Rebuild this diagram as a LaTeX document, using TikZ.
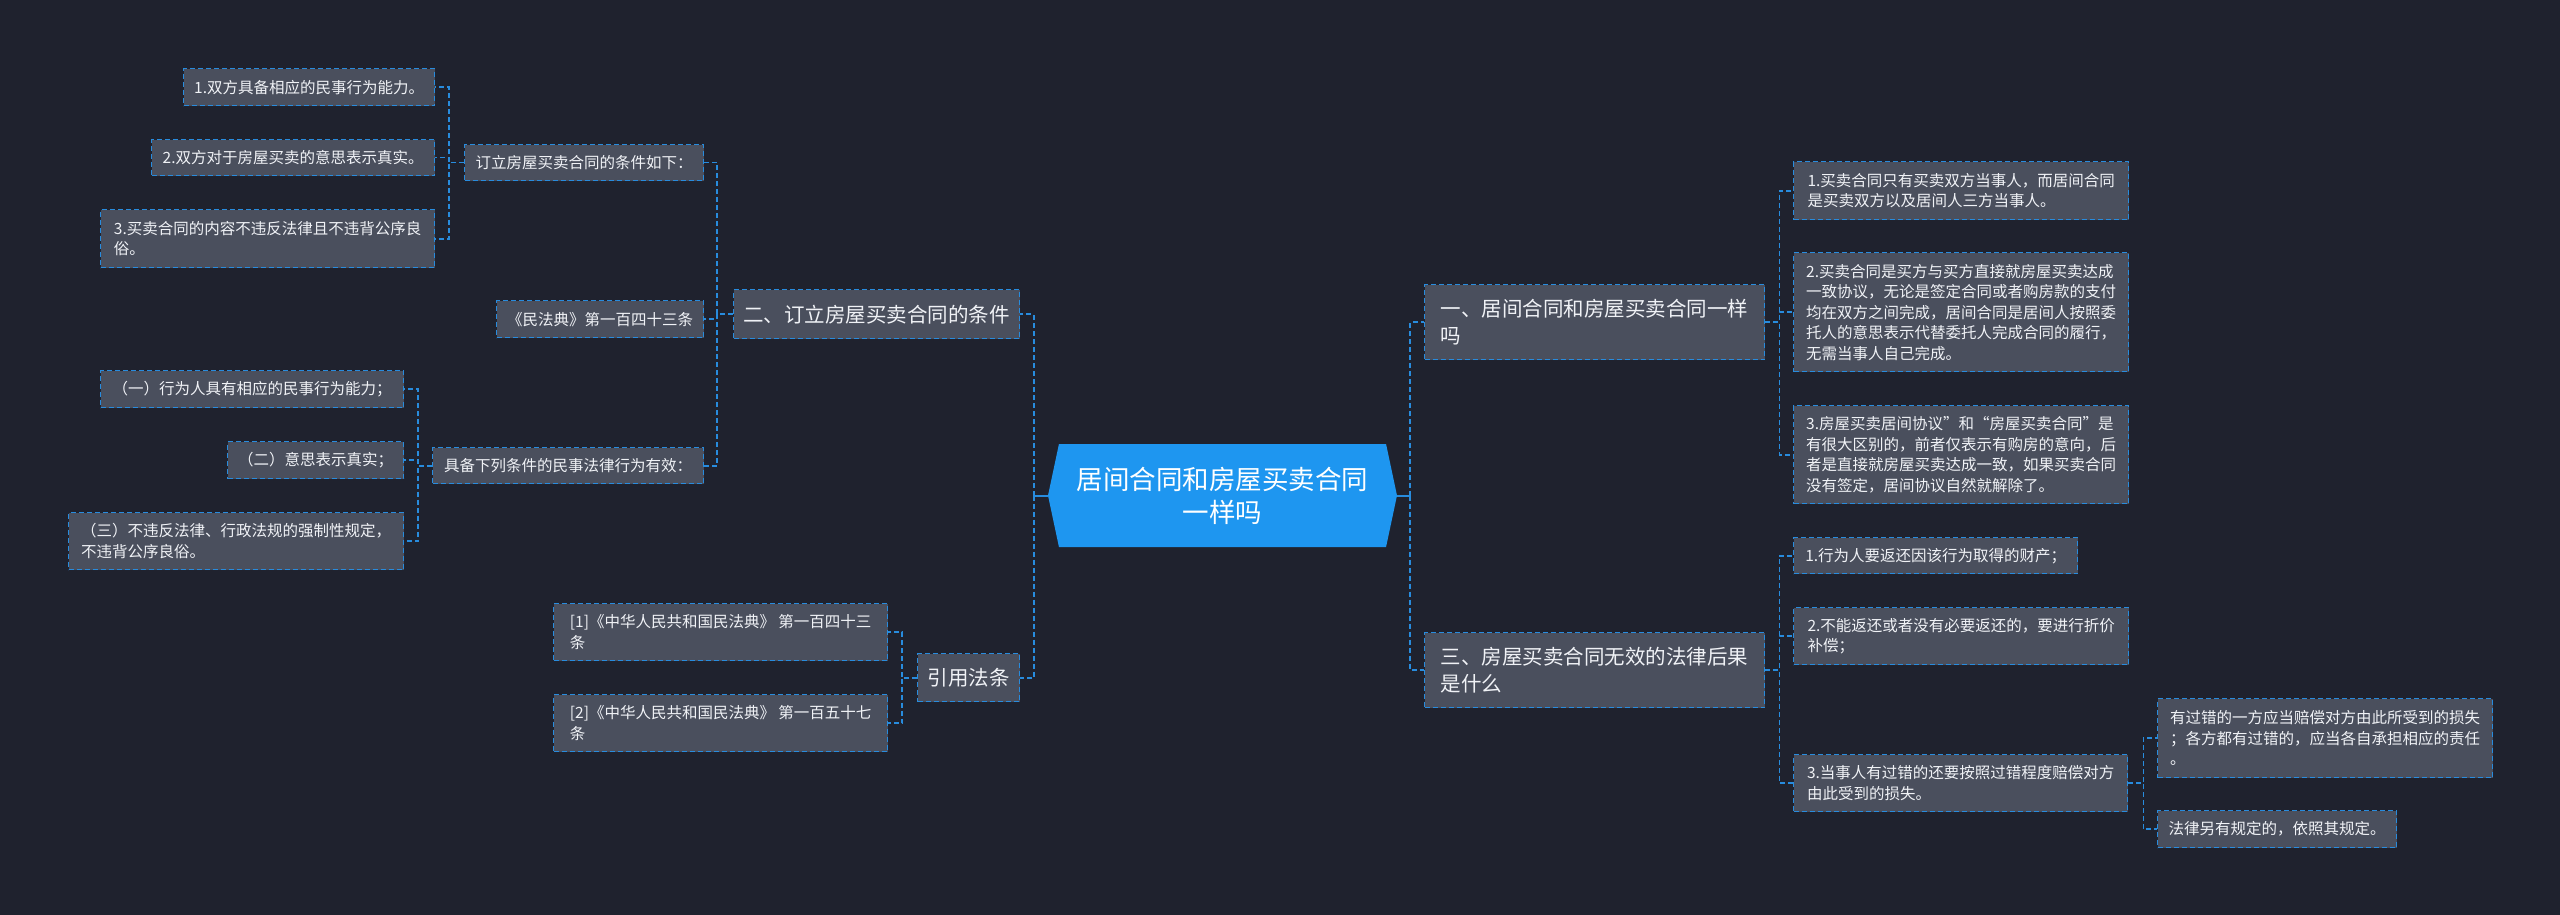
\documentclass[tikz,border=0pt]{standalone}
\usepackage{fontspec}
\newfontfamily\cjk{Noto Sans CJK SC}
\usetikzlibrary{shapes.symbols}
\definecolor{bgc}{RGB}{31,34,46}
\definecolor{boxfill}{RGB}{74,79,93}
\definecolor{edgeblue}{RGB}{40,140,222}
\definecolor{rootblue}{RGB}{30,150,240}
\definecolor{txt}{RGB}{240,242,246}
\tikzset{
  sbox/.style={draw=edgeblue, fill=boxfill, dash pattern=on 5pt off 3pt, line width=1.4pt,
    text=txt, align=left, anchor=north west, inner sep=0pt,
    font=\cjk\fontsize{15.5}{20.5}\selectfont},
  mbox/.style={sbox, font=\cjk\fontsize{20.5}{27}\selectfont},
  conn/.style={draw=edgeblue, dash pattern=on 5pt off 3pt, line width=1.6pt},
  stub/.style={draw=edgeblue, line width=2pt},
}
\begin{document}
\begin{tikzpicture}[x=1pt,y=-1pt]
\useasboundingbox (0,0) rectangle (2560,915);
\fill[bgc] (0,0) rectangle (2560,915);

% root
\node[signal, signal to=west and east, signal pointer angle=156, fill=rootblue, text=white,
      minimum width=349, minimum height=103, inner sep=0pt, align=center,
      font=\cjk\fontsize{26.5}{33}\selectfont] (root) at (1222.5,495.5)
      {居间合同和房屋买卖合同\\一样吗};

% left main branches
\node[mbox, minimum width=286, minimum height=49] (L1) at (733,289) {二、订立房屋买卖合同的条件};
\node[mbox, minimum width=102, minimum height=48] (L2) at (917,653) {引用法条};

% under L1
\node[sbox, minimum width=239, minimum height=36] (A) at (464,144) {订立房屋买卖合同的条件如下：};
\node[sbox, minimum width=207, minimum height=37] (B) at (496,300) {《民法典》第一百四十三条};
\node[sbox, minimum width=271, minimum height=36] (C) at (432,447) {具备下列条件的民事法律行为有效：};

\node[sbox, minimum width=251, minimum height=37] (a1) at (183,68) {1.双方具备相应的民事行为能力。};
\node[sbox, minimum width=283, minimum height=36] (a2) at (151,139) {2.双方对于房屋买卖的意思表示真实。};
\node[sbox, minimum width=334, minimum height=58] (a3) at (100,209) {3.买卖合同的内容不违反法律且不违背公序良\\俗。};

\node[sbox, minimum width=303, minimum height=37] (c1) at (100,370) {（一）行为人具有相应的民事行为能力；};
\node[sbox, minimum width=176, minimum height=37] (c2) at (227,441) {（二）意思表示真实；};
\node[sbox, minimum width=335, minimum height=57] (c3) at (68,512) {（三）不违反法律、行政法规的强制性规定，\\不违背公序良俗。};

% under L2
\node[sbox, minimum width=334, minimum height=57] (r1) at (553,603) {[1]《中华人民共和国民法典》 第一百四十三\\条};
\node[sbox, minimum width=334, minimum height=57] (r2) at (553,694) {[2]《中华人民共和国民法典》 第一百五十七\\条};

% right main branches
\node[mbox, minimum width=340, minimum height=75] (R1) at (1424,284) {一、居间合同和房屋买卖合同一样\\吗};
\node[mbox, minimum width=340, minimum height=75] (R2) at (1424,632) {三、房屋买卖合同无效的法律后果\\是什么};

\node[sbox, minimum width=335, minimum height=58] (s1) at (1793,161) {1.买卖合同只有买卖双方当事人，而居间合同\\是买卖双方以及居间人三方当事人。};
\node[sbox, minimum width=335, minimum height=119] (s2) at (1793,252) {2.买卖合同是买方与买方直接就房屋买卖达成\\一致协议，无论是签定合同或者购房款的支付\\均在双方之间完成，居间合同是居间人按照委\\托人的意思表示代替委托人完成合同的履行，\\无需当事人自己完成。};
\node[sbox, minimum width=335, minimum height=98] (s3) at (1793,405) {3.房屋买卖居间协议”和“房屋买卖合同”是\\有很大区别的，前者仅表示有购房的意向，后\\者是直接就房屋买卖达成一致，如果买卖合同\\没有签定，居间协议自然就解除了。};

\node[sbox, minimum width=284, minimum height=36] (t1) at (1793,537) {1.行为人要返还因该行为取得的财产；};
\node[sbox, minimum width=335, minimum height=57] (t2) at (1793,607) {2.不能返还或者没有必要返还的，要进行折价\\补偿；};
\node[sbox, minimum width=334, minimum height=57] (t3) at (1793,754) {3.当事人有过错的还要按照过错程度赔偿对方\\由此受到的损失。};

\node[sbox, minimum width=335, minimum height=79] (u1) at (2157,698) {有过错的一方应当赔偿对方由此所受到的损失\\；各方都有过错的，应当各自承担相应的责任\\。};
\node[sbox, minimum width=239, minimum height=37] (u2) at (2157,810) {法律另有规定的，依照其规定。};

% trunk coordinates
\path (root.west) ++(-14,0) coordinate (lt);
\path (root.east) ++(13,0) coordinate (rt);
\draw[stub] (root.west) -- (lt);
\draw[stub] (root.east) -- (rt);

% connectors
\foreach \c in {L1,L2} \draw[conn] (lt) |- (\c.east);
\foreach \c in {R1,R2} \draw[conn] (rt) |- (\c.west);

\foreach \c in {A,B,C} \draw[conn] (L1.west) -- ++(-16,0) |- (\c.east);
\foreach \c in {a1,a2,a3} \draw[conn] (A.west) -- ++(-15,0) |- (\c.east);
\foreach \c in {c1,c2,c3} \draw[conn] (C.west) -- ++(-14,0) |- (\c.east);
\foreach \c in {r1,r2} \draw[conn] (L2.west) -- ++(-15,0) |- (\c.east);

\foreach \c in {s1,s2,s3} \draw[conn] (R1.east) -- ++(14,0) |- (\c.west);
\foreach \c in {t1,t2,t3} \draw[conn] (R2.east) -- ++(14,0) |- (\c.west);
\foreach \c in {u1,u2} \draw[conn] (t3.east) -- ++(15,0) |- (\c.west);
\end{tikzpicture}
\end{document}
